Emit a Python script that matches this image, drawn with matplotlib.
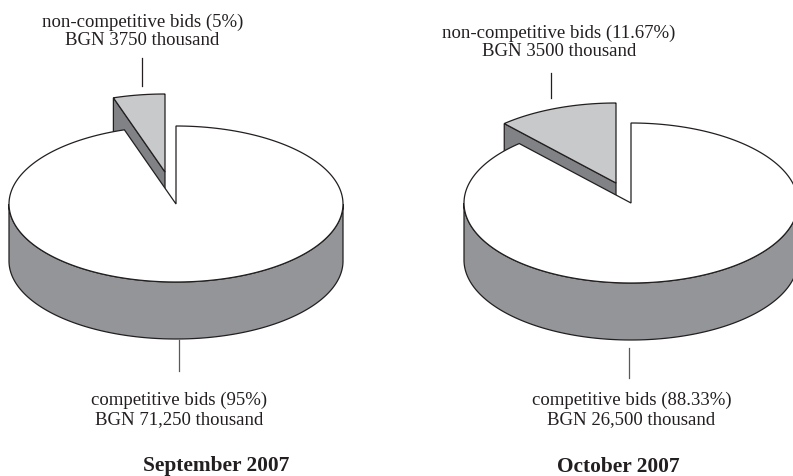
import numpy as np
import matplotlib
matplotlib.use("Agg")
import matplotlib.pyplot as plt

plt.rcParams['font.family'] = ['Liberation Serif', 'DejaVu Serif']

months = ["September 2007", "October 2007"]
competitive = [71250, 26500]
non_competitive = [3750, 3500]
comp_labels = ["competitive bids (95%)\nBGN 71,250 thousand",
               "competitive bids (88.33%)\nBGN 26,500 thousand"]
non_comp_labels = ["non-competitive bids (5%)\nBGN 3750 thousand",
                   "non-competitive bids (11.67%)\nBGN 3500 thousand"]

SIDE = "#939598"
WEDGE_TOP = "#c8c9cb"
WEDGE_SIDE = "#808285"
EDGE = "#231f20"
TICK = "#58595b"
RX = 167
DEPTH = 57


def arc(cx, cy, ry, a0, a1):
    # angles measured clockwise from 12 o'clock
    t = np.radians(np.linspace(a0, a1, 200))
    return cx + RX * np.sin(t), cy - ry * np.cos(t)


def draw_pie(ax, cx, cy, ry, dx, dy, comp, non):
    split = 360 * comp / (comp + non)

    # exploded slice, the main pie is painted over its lower part
    wx, wy = cx + dx, cy + dy
    ax_, ay_ = arc(wx, wy, ry, split, 360)
    ax.fill([ax_[0], wx, wx, ax_[0]], [ay_[0], wy, wy + DEPTH, ay_[0] + DEPTH],
            fc=WEDGE_SIDE, ec=EDGE, lw=0.9, zorder=1)
    ax.fill(np.r_[wx, ax_], np.r_[wy, ay_], fc=WEDGE_TOP, ec=EDGE, lw=0.9, zorder=2)

    # rim of the main pie
    sx, sy = arc(cx, cy, ry, 90, 270)
    ax.fill(np.r_[sx, sx[::-1]], np.r_[sy, sy[::-1] + DEPTH],
            fc=SIDE, ec=EDGE, lw=0.9, zorder=3)

    # top of the main pie
    tx, ty = arc(cx, cy, ry, 0, split)
    ax.fill(np.r_[cx, tx], np.r_[cy, ty], fc="white", ec=EDGE, lw=0.9, zorder=4)


fig = plt.figure(figsize=(7.93, 4.76), dpi=100)
ax = fig.add_axes([0, 0, 1, 1])
ax.set_xlim(0, 793)
ax.set_ylim(476, 0)
ax.axis("off")

draw_pie(ax, 176, 204, 78, -11, -32, competitive[0], non_competitive[0])
draw_pie(ax, 631, 203, 80, -15, -20, competitive[1], non_competitive[1])

ax.plot([142, 142], [58, 86], color=EDGE, lw=0.9)
ax.plot([179, 179], [340, 371], color=TICK, lw=0.9)
ax.plot([551, 551], [73, 98], color=EDGE, lw=0.9)
ax.plot([629, 629], [348, 378], color=TICK, lw=0.9)

FS = 13.5
ax.text(142.5, 31, non_comp_labels[0], ha="center", va="center", fontsize=FS,
        color=EDGE, linespacing=1.06)
ax.text(559, 42, non_comp_labels[1], ha="center", va="center", fontsize=FS,
        color=EDGE, linespacing=1.06)
ax.text(179, 410, comp_labels[0], ha="center", va="center", fontsize=FS,
        color=EDGE, linespacing=1.18)
ax.text(631.5, 410, comp_labels[1], ha="center", va="center", fontsize=FS,
        color=EDGE, linespacing=1.18)
ax.text(216, 466.5, months[0], ha="center", va="center", fontsize=15.4,
        fontweight="bold", color=EDGE)
ax.text(618.5, 466.5, months[1], ha="center", va="center", fontsize=15.4,
        fontweight="bold", color=EDGE)

fig.savefig("out.png", dpi=100)
